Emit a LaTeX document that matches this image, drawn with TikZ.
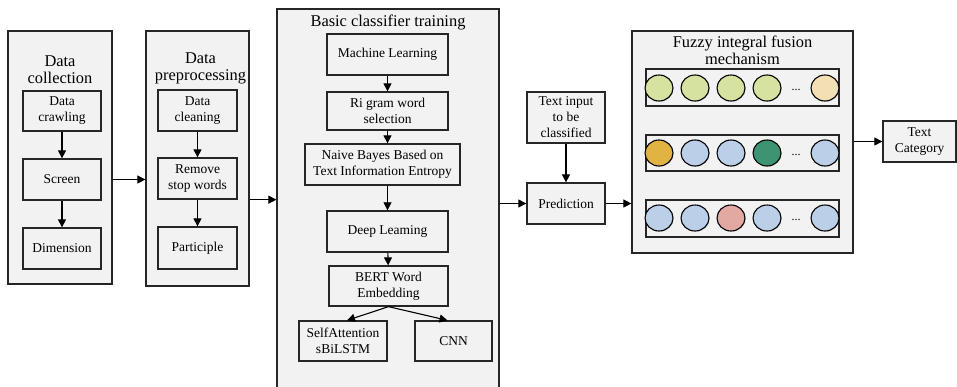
\documentclass[tikz,border=0pt]{standalone}
\usepackage{fontspec}
\setmainfont{Liberation Serif}
\usetikzlibrary{arrows.meta,shadows,shapes.geometric}
\definecolor{boxfill}{HTML}{F2F2F2}
\definecolor{cgreen}{HTML}{D6E3A0}
\definecolor{cbeige}{HTML}{F2E0B4}
\definecolor{corange}{HTML}{E0B342}
\definecolor{cblue}{HTML}{BBCFE9}
\definecolor{cdgreen}{HTML}{3C9473}
\definecolor{cpink}{HTML}{E2A9A2}
\begin{document}
\begin{tikzpicture}[x=1pt,y=-1pt,
  outer/.style={draw=black!85,line width=1.2pt,fill=boxfill,rectangle,inner sep=0pt,
    drop shadow={shadow xshift=1pt,shadow yshift=-1pt,opacity=0.25}},
  inbox/.style={draw=black!85,line width=1.3pt,fill=boxfill,rectangle,inner sep=1pt,align=center,
    font=\rmfamily\fontsize{13.5}{16}\selectfont,
    drop shadow={shadow xshift=1pt,shadow yshift=-1pt,opacity=0.25}},
  rowbox/.style={draw=black!85,line width=1.3pt,fill=boxfill,rectangle,inner sep=0pt,minimum width=193pt},
  ttl/.style={align=center,font=\rmfamily\fontsize{16.4}{17}\selectfont,inner sep=0pt},
  dot/.style={ellipse,draw=black,line width=1.1pt,minimum width=28pt,minimum height=26pt,inner sep=0pt,
    drop shadow={shadow xshift=0.8pt,shadow yshift=-0.8pt,opacity=0.25}},
  dots/.style={font=\rmfamily\fontsize{12}{12}\selectfont,inner sep=0pt},
  arr/.style={-{Triangle[length=8pt,width=8pt]},line width=1.1pt,black}]
\useasboundingbox (0,0) rectangle (957,386);
\clip (0,0) rectangle (957,386);
\fill[white] (0,0) rectangle (957,386);

% Data collection
\node[outer,minimum width=104pt,minimum height=253pt] (dc) at (60,157.5) {};
\node[ttl] (dct) at (60,70) {Data\\collection};
\node[inbox,minimum width=78pt,minimum height=40pt] (crawl) at (62,111) {Data\\crawling};
\node[inbox,minimum width=78pt,minimum height=41pt] (scr) at (62,179.5) {Screen};
\node[inbox,minimum width=78pt,minimum height=41pt] (dim) at (62,248.5) {Dimension};
\draw[arr] (crawl) -- (scr);
\draw[arr] (scr) -- (dim);

% Data preprocessing
\node[outer,minimum width=103pt,minimum height=255pt] (dp) at (197.5,158.5) {};
\node[ttl] (dpt) at (200.5,68) {Data\\preprocessing};
\node[inbox,minimum width=79pt,minimum height=41pt] (clean) at (197.5,110.5) {Data\\cleaning};
\node[inbox,minimum width=79pt,minimum height=41pt] (rsw) at (197.5,178.5) {Remove\\stop words};
\node[inbox,minimum width=79pt,minimum height=42pt] (part) at (197.5,248) {Participle};
\draw[arr] (clean) -- (rsw);
\draw[arr] (rsw) -- (part);

% Basic classifier training
\node[outer,minimum width=222pt,minimum height=395pt] (bc) at (388,206.5) {};
\node[ttl] (bct) at (388,22) {Basic classifier training};
\node[inbox,minimum width=121pt,minimum height=41pt] (ml) at (387.5,54.5) {Machine Learning};
\node[inbox,minimum width=121pt,minimum height=38pt] (ri) at (387.5,111) {Ri gram word\\selection};
\node[inbox,minimum width=155pt,minimum height=41pt] (nb) at (382.5,164.5) {Naive Bayes Based on\\Text Information Entropy};
\node[inbox,minimum width=121pt,minimum height=41pt] (dl) at (387.5,231.5) {Deep Leaming};
\node[inbox,minimum width=119pt,minimum height=40pt] (bert) at (388.5,286) {BERT Word\\Embedding};
\node[inbox,minimum width=88pt,minimum height=40pt] (sa) at (343,341) {SelfAttention\\sBiLSTM};
\node[inbox,minimum width=77pt,minimum height=40pt] (cnn) at (453.5,341) {CNN};
\draw[arr] (ml.south -| ri) -- (ri);
\draw[arr] (ri.south) -- (ri.south |- nb.north);
\draw[arr,line width=0.6pt] (nb.south -| ri) -- (dl.north -| ri);
\draw[arr] (dl) -- (bert);
\draw[arr] (bert.south) -- ([xshift=4pt]sa.north);
\draw[arr] (bert.south) -- ([xshift=-6pt]cnn.north);

% connectors between stages
\draw[arr] (dc.east |- scr) -- (dp.west |- scr);
\draw[arr] (dp.east |- rsw.south) -- (bc.west |- rsw.south);

% Prediction
\node[inbox,minimum width=78pt,minimum height=51pt] (txt) at (566,117.5) {Text input\\to be\\classified};
\node[inbox,minimum width=78pt,minimum height=41pt] (pred) at (566,203.5) {Prediction};
\draw[arr] (txt) -- (pred);
\draw[arr] (bc.east |- pred) -- (pred);

% Fuzzy integral fusion
\node[outer,minimum width=221pt,minimum height=222pt] (fz) at (742.5,142) {};
\node[ttl] (fzt) at (742.5,50.5) {Fuzzy integral fusion\\mechanism};
\node[rowbox,minimum height=37pt] (r1) at (742.5,87.5) {};
\node[rowbox,minimum height=36pt] (r2) at (742.5,153) {};
\node[rowbox,minimum height=37pt] (r3) at (742.5,218.5) {};
\draw[arr] (pred) -- (fz.west |- pred);

% row 1
\node[dot,fill=cgreen] (a1) at (659,88) {};
\node[dot,fill=cgreen] (a2) at (695,88) {};
\node[dot,fill=cgreen] (a3) at (731,88) {};
\node[dot,fill=cgreen] (a4) at (767,88) {};
\node[dots] (a5) at (796,90) {...};
\node[dot,fill=cbeige] (a6) at (825,88) {};
% row 2
\node[dot,fill=corange] (b1) at (659,153) {};
\node[dot,fill=cblue] (b2) at (695,153) {};
\node[dot,fill=cblue] (b3) at (731,153) {};
\node[dot,fill=cdgreen] (b4) at (767,153) {};
\node[dots] (b5) at (796,155) {...};
\node[dot,fill=cblue] (b6) at (825,153) {};
% row 3
\node[dot,fill=cblue] (c1) at (659,218) {};
\node[dot,fill=cblue] (c2) at (695,218) {};
\node[dot,fill=cpink] (c3) at (731,218) {};
\node[dot,fill=cblue] (c4) at (767,218) {};
\node[dots] (c5) at (796,220) {...};
\node[dot,fill=cblue] (c6) at (825,218) {};

% Text category
\node[inbox,minimum width=73pt,minimum height=41pt] (tc) at (919.5,141.5) {Text\\Category};
\draw[arr] (fz.east |- tc) -- (tc);
\end{tikzpicture}
\end{document}
